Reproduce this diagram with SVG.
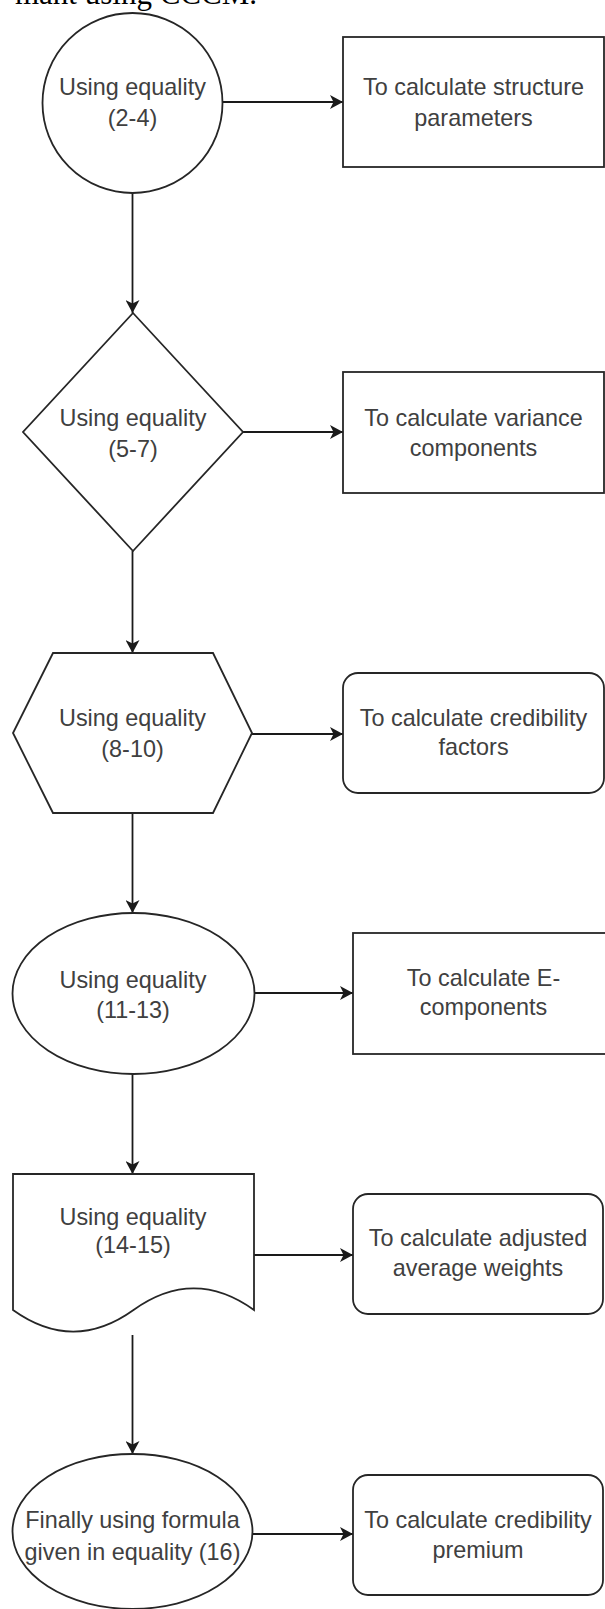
<svg xmlns="http://www.w3.org/2000/svg" width="605" height="1609" viewBox="0 0 605 1609">
  <style>
    .shape { fill: #ffffff; stroke: #262626; stroke-width: 1.8; }
    .conn { fill: none; stroke: #1a1a1a; stroke-width: 1.8; }
    .lbl { font-family: "Liberation Sans", Arial, sans-serif; font-size: 23.4px; fill: #404040; text-anchor: middle; }
    .cap { font-family: "Liberation Serif", "Times New Roman", serif; font-size: 31px; fill: #000000; }
  </style>
  <defs>
    <marker id="arr" viewBox="0 0 14 14" refX="13" refY="7" markerWidth="14" markerHeight="14" markerUnits="userSpaceOnUse" orient="auto">
      <path d="M13,7 L0,0 L3.5,7 L0,14 Z" fill="#1a1a1a"/>
    </marker>
  </defs>
  <rect x="0" y="0" width="605" height="1609" fill="#ffffff"/>

  <text class="cap" x="257" y="4" text-anchor="end">mant using CCCM.</text>

  <g id="connectors">
    <line class="conn" x1="222.5" y1="102" x2="343" y2="102" marker-end="url(#arr)"/>
    <line class="conn" x1="132.5" y1="193" x2="132.5" y2="313" marker-end="url(#arr)"/>
    <line class="conn" x1="243" y1="432" x2="343" y2="432" marker-end="url(#arr)"/>
    <line class="conn" x1="132.5" y1="551" x2="132.5" y2="653" marker-end="url(#arr)"/>
    <line class="conn" x1="252" y1="734" x2="343" y2="734" marker-end="url(#arr)"/>
    <line class="conn" x1="132.5" y1="813" x2="132.5" y2="913" marker-end="url(#arr)"/>
    <line class="conn" x1="253" y1="993" x2="353" y2="993" marker-end="url(#arr)"/>
    <line class="conn" x1="132.5" y1="1074" x2="132.5" y2="1174" marker-end="url(#arr)"/>
    <line class="conn" x1="254" y1="1255" x2="353" y2="1255" marker-end="url(#arr)"/>
    <line class="conn" x1="132.5" y1="1335" x2="132.5" y2="1454" marker-end="url(#arr)"/>
    <line class="conn" x1="253" y1="1534" x2="353" y2="1534" marker-end="url(#arr)"/>
  </g>

  <g id="n1">
    <ellipse class="shape" cx="132.5" cy="103" rx="90" ry="90"/>
    <text class="lbl" x="132.5" y="95">Using equality</text>
    <text class="lbl" x="132.5" y="126">(2-4)</text>
  </g>
  <g id="r1">
    <rect class="shape" x="343" y="37" width="261" height="130"/>
    <text class="lbl" x="473.5" y="95">To calculate structure</text>
    <text class="lbl" x="473.5" y="126">parameters</text>
  </g>

  <g id="n2">
    <polygon class="shape" points="133,313 243,432 133,551 23,432"/>
    <text class="lbl" x="133" y="426">Using equality</text>
    <text class="lbl" x="133" y="457">(5-7)</text>
  </g>
  <g id="r2">
    <rect class="shape" x="343" y="372" width="261" height="121"/>
    <text class="lbl" x="473.5" y="426">To calculate variance</text>
    <text class="lbl" x="473.5" y="456">components</text>
  </g>

  <g id="n3">
    <polygon class="shape" points="53,653 213,653 252,733 213,813 53,813 13,733"/>
    <text class="lbl" x="132.5" y="726">Using equality</text>
    <text class="lbl" x="132.5" y="757">(8-10)</text>
  </g>
  <g id="r3">
    <rect class="shape" x="343" y="673" width="261" height="120" rx="15" ry="15"/>
    <text class="lbl" x="473.5" y="726">To calculate credibility</text>
    <text class="lbl" x="473.5" y="755">factors</text>
  </g>

  <g id="n4">
    <ellipse class="shape" cx="133.5" cy="993.5" rx="121" ry="80.5"/>
    <text class="lbl" x="133" y="988">Using equality</text>
    <text class="lbl" x="133" y="1018">(11-13)</text>
  </g>
  <g id="r4">
    <rect class="shape" x="353" y="933" width="262" height="121"/>
    <text class="lbl" x="483.5" y="986">To calculate E-</text>
    <text class="lbl" x="483.5" y="1015">components</text>
  </g>

  <g id="n5">
    <path class="shape" d="M13,1174 H254 V1310 Q193.75,1266.8 133.5,1310 Q73.25,1353.2 13,1310 Z"/>
    <text class="lbl" x="133" y="1225">Using equality</text>
    <text class="lbl" x="133" y="1253">(14-15)</text>
  </g>
  <g id="r5">
    <rect class="shape" x="353" y="1194" width="250" height="120" rx="15" ry="15"/>
    <text class="lbl" x="478" y="1246">To calculate adjusted</text>
    <text class="lbl" x="478" y="1276">average weights</text>
  </g>

  <g id="n6">
    <ellipse class="shape" cx="132.5" cy="1531.5" rx="120" ry="77.5"/>
    <text class="lbl" x="132.5" y="1528">Finally using formula</text>
    <text class="lbl" x="132.5" y="1560">given in equality (16)</text>
  </g>
  <g id="r6">
    <rect class="shape" x="353" y="1475" width="250" height="120" rx="15" ry="15"/>
    <text class="lbl" x="478" y="1528">To calculate credibility</text>
    <text class="lbl" x="478" y="1558">premium</text>
  </g>
</svg>
